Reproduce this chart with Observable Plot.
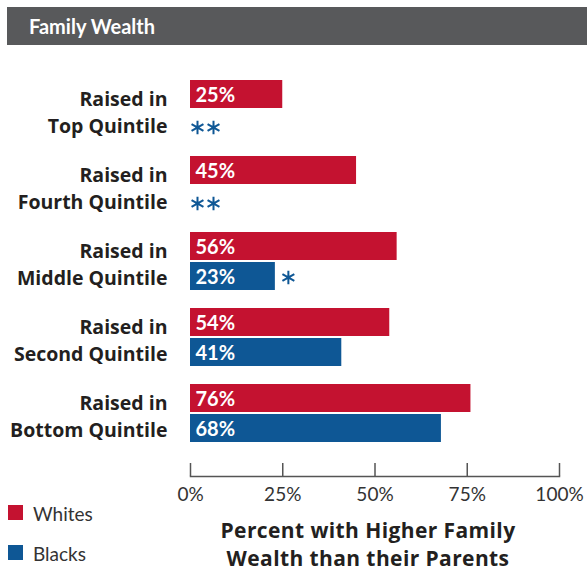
<!DOCTYPE html>
<html>
<head>
<meta charset="utf-8">
<script src="https://cdn.jsdelivr.net/npm/d3@7"></script>
<script src="https://cdn.jsdelivr.net/npm/@observablehq/plot@0.6"></script>
<style>
  html, body { margin: 0; padding: 0; background: #fff; }
  #wrap { position: relative; width: 587px; height: 571px; font-family: Lato, "Open Sans", sans-serif; overflow: hidden; }
  #header { position: absolute; left: 7px; top: 7px; width: 580px; height: 38px; background: #58595b; color: #fff;
            font-size: 20px; font-weight: bold; line-height: 38px; box-sizing: border-box; padding-left: 22px; }
  #chart { position: absolute; left: 0; top: 0; }
  .leg { position: absolute; left: 8px; font-size: 19px; color: #333; line-height: 19px; }
  .leg span.sw { position: absolute; left: 0; top: 1px; width: 15px; height: 15px; }
  .leg span.lab { position: absolute; left: 25px; top: 0; white-space: nowrap; }
  #xtitle { position: absolute; left: 168px; width: 400px; top: 516px; text-align: center; font-size: 21px; font-weight: bold;
            letter-spacing: 0.4px; font-family: "Open Sans", sans-serif; color: #231f20; line-height: 28px; }
</style>
</head>
<body>
<div id="wrap">
  <div id="chart"></div>
  <div id="header">Family Wealth</div>
  <div id="xtitle">Percent with Higher Family<br>Wealth than their Parents</div>
</div>
<script>
const groups = ["Top Quintile", "Fourth Quintile", "Middle Quintile", "Second Quintile", "Bottom Quintile"];
const whites = [25, 45, 56, 54, 76];
const blacks = [null, null, 23, 41, 68];
const notes = ["**", "**", "*", "", ""];
const series = ["Whites", "Blacks"];
const colors = ["#c41230", "#0e5795"];
const xTicks = [0, 25, 50, 75, 100];

const rowsW = groups.map((g, i) => ({group: g, value: whites[i]}));
const rowsB = groups.map((g, i) => ({group: g, value: blacks[i]})).filter(d => d.value != null);
const starsNoBar = groups.map((g, i) => ({group: g, value: blacks[i], note: notes[i]})).filter(d => d.value == null && d.note.length > 0);
const starsBar = groups.map((g, i) => ({group: g, value: blacks[i], note: notes[i]})).filter(d => d.value != null && d.note.length > 0);

const plot = Plot.plot({
  width: 587,
  height: 571,
  marginTop: 80,
  marginBottom: 95,
  marginLeft: 190,
  marginRight: 28,
  style: {fontFamily: "Lato, 'Open Sans', sans-serif", background: "transparent"},
  x: {domain: [0, 100], axis: null},
  y: {domain: groups, range: [80, 442], paddingInner: 18 / 76, paddingOuter: 0, align: 0, axis: null},
  marks: [
    Plot.barX(rowsW, {x: "value", y: "group", fill: colors[0], insetBottom: 30}),
    Plot.barX(rowsB, {x: "value", y: "group", fill: colors[1], insetTop: 30}),
    Plot.text(rowsW, {x: 0, y: "group", text: d => d.value + "%", textAnchor: "start", dx: 5, dy: -14, fill: "#fff", fontSize: 20, fontWeight: "bold"}),
    Plot.text(rowsB, {x: 0, y: "group", text: d => d.value + "%", textAnchor: "start", dx: 5, dy: 16, fill: "#fff", fontSize: 20, fontWeight: "bold"}),
    Plot.dot(starsNoBar, {x: 0, y: "group", symbol: "asterisk", r: 6.5, stroke: colors[1], strokeWidth: 2, dx: 7, dy: 18}),
    Plot.dot(starsNoBar.filter(d => d.note.length > 1), {x: 0, y: "group", symbol: "asterisk", r: 6.5, stroke: colors[1], strokeWidth: 2, dx: 23, dy: 18}),
    Plot.dot(starsBar, {x: "value", y: "group", symbol: "asterisk", r: 6.5, stroke: colors[1], strokeWidth: 2, dx: 13, dy: 16}),
    Plot.text(groups, {y: d => d, text: d => "Raised in\n" + d, frameAnchor: "left", textAnchor: "end", dx: -23, dy: 1, lineHeight: 1.4, fontSize: 19.5, fontWeight: "bold", fontFamily: "'Open Sans', sans-serif", fill: "#231f20"}),
    Plot.frame({anchor: "bottom", stroke: "#555", strokeWidth: 1.5}),
    Plot.ruleX(xTicks, {x: d => d, insetTop: 396 - 13, stroke: "#555", strokeWidth: 1.5}),
    Plot.axisX(xTicks, {tickSize: 0, tickPadding: 11, fontSize: 19, tickFormat: d => d + "%", label: null, color: "#333"})
  ]
});
document.getElementById("chart").appendChild(plot);

const wrap = document.getElementById("wrap");
series.forEach((s, i) => {
  const el = document.createElement("div");
  el.className = "leg";
  el.style.top = (504 + i * 40) + "px";
  el.innerHTML = `<span class="sw" style="background:${colors[i]}"></span><span class="lab">${s}</span>`;
  wrap.appendChild(el);
});
</script>
</body>
</html>
